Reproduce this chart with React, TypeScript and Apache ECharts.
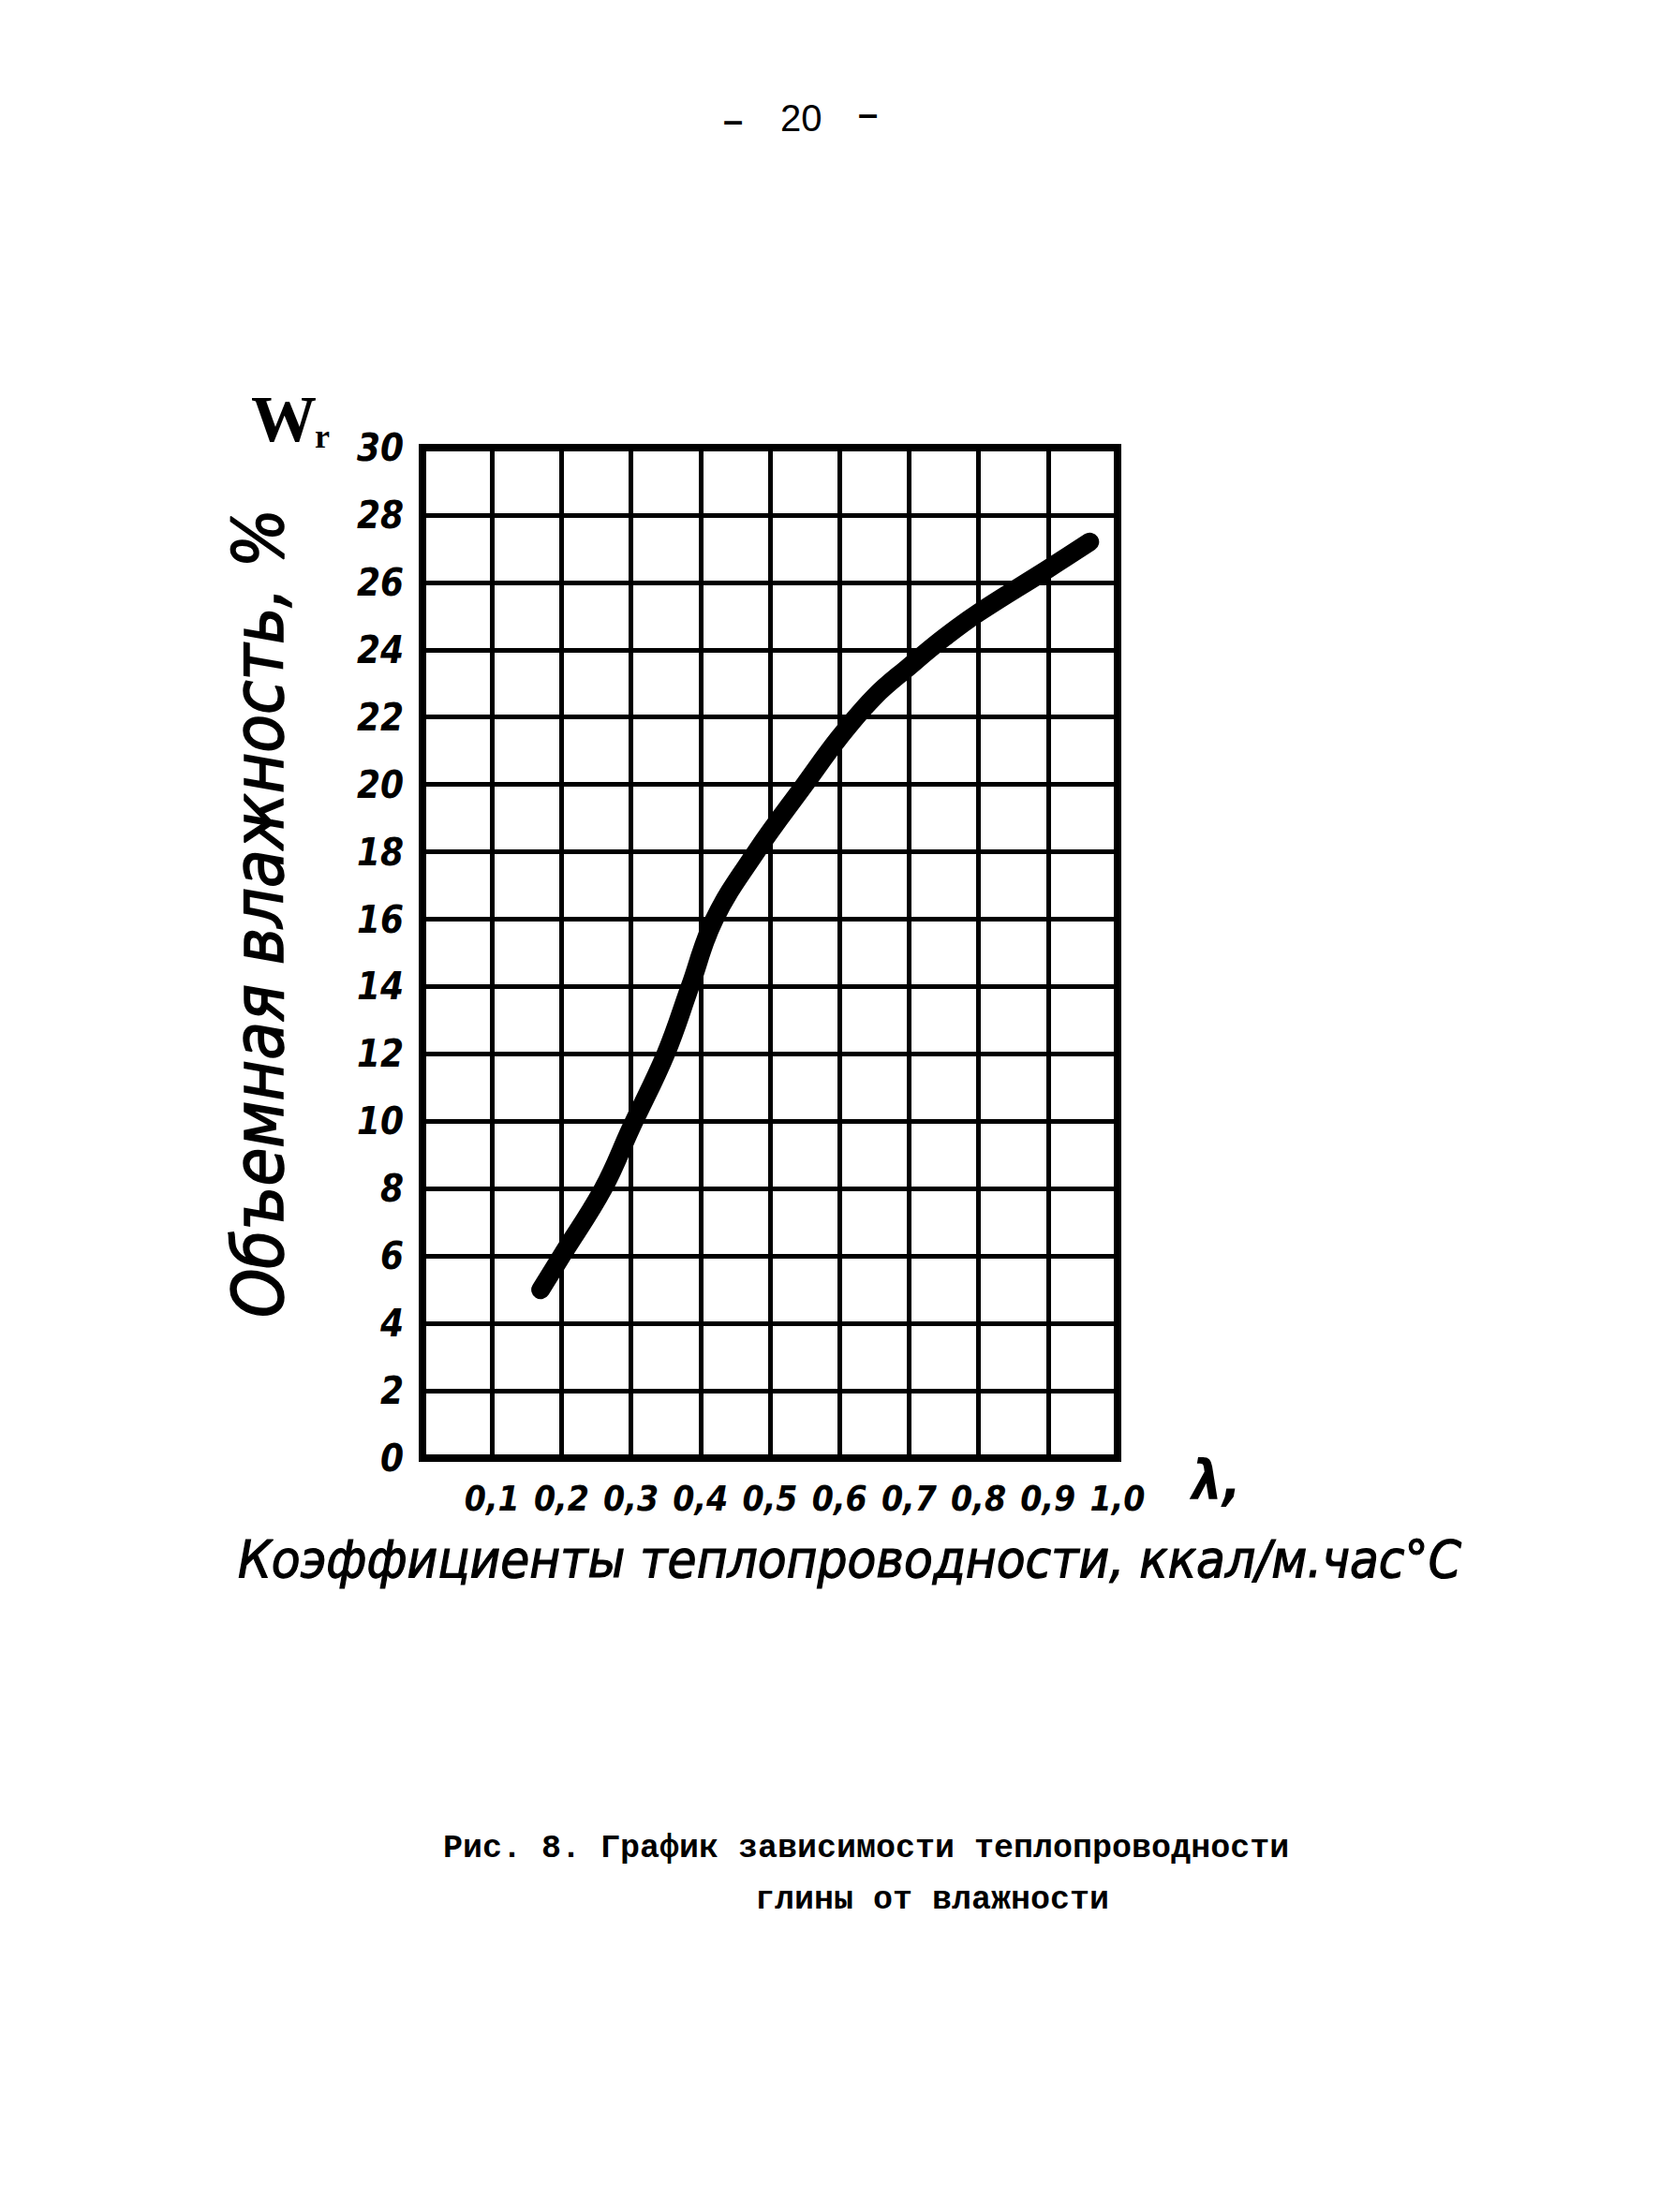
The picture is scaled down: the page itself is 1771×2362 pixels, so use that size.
import React, { useEffect, useRef } from "react";
import * as echarts from "echarts";

// Thermal conductivity coefficient λ (x) vs volumetric moisture W (y)
const lambdaValues = [0.17, 0.2, 0.26, 0.3, 0.35, 0.385, 0.42, 0.48, 0.55, 0.6, 0.65, 0.7, 0.75, 0.8, 0.9, 0.96];
const moistureValues = [5.0, 6.0, 8.0, 9.8, 12.0, 14.0, 16.0, 18.0, 20.0, 21.4, 22.6, 23.5, 24.35, 25.1, 26.4, 27.2];

const xTickValues = [0.1, 0.2, 0.3, 0.4, 0.5, 0.6, 0.7, 0.8, 0.9, 1.0];
const xTickLabels = ["0,1", "0,2", "0,3", "0,4", "0,5", "0,6", "0,7", "0,8", "0,9", "1,0"];

const pageNumber = "20";
const yTitle = "Объемная влажность, %";
const xTitle = "Коэффициенты теплопроводности, ккал/м.час°С";
const captionLine1 = "Рис. 8. График зависимости теплопроводности";
const captionLine2 = "глины от влажности";

const HAND = "'DejaVu Sans Condensed', 'DejaVu Sans', sans-serif";

export default function App() {
  const ref = useRef<HTMLDivElement>(null);

  useEffect(() => {
    if (!ref.current) return;
    const chart = echarts.init(ref.current, null, { renderer: "svg" });
    const data = lambdaValues.map((x, i) => [x, moistureValues[i]]);

    chart.setOption({
      animation: false,
      backgroundColor: "#ffffff",
      grid: {
        left: 451,
        right: 578,
        top: 478,
        bottom: 805,
        show: true,
        borderColor: "#000",
        borderWidth: 8,
        backgroundColor: "transparent",
      },
      xAxis: {
        type: "value",
        min: 0,
        max: 1.0,
        interval: 0.1,
        axisLine: { show: true, lineStyle: { color: "#000", width: 8 } },
        axisTick: { show: false },
        splitLine: { show: true, lineStyle: { color: "#000", width: 5 } },
        axisLabel: {
          margin: 25,
          color: "#000",
          fontFamily: HAND,
          fontStyle: "italic",
          fontWeight: "bold",
          fontSize: 37,
          formatter: (v: number) => {
            const idx = xTickValues.findIndex((t) => Math.abs(t - v) < 1e-6);
            return idx >= 0 ? xTickLabels[idx] : "";
          },
        },
      },
      yAxis: {
        type: "value",
        min: 0,
        max: 30,
        interval: 2,
        axisLine: { show: true, lineStyle: { color: "#000", width: 8 } },
        axisTick: { show: false },
        splitLine: { show: true, lineStyle: { color: "#000", width: 5 } },
        axisLabel: {
          margin: 20,
          color: "#000",
          fontFamily: HAND,
          fontStyle: "italic",
          fontWeight: "bold",
          fontSize: 40,
        },
      },
      series: [
        {
          type: "line",
          data,
          smooth: 0.4,
          showSymbol: false,
          lineStyle: { color: "#000", width: 20, cap: "round", join: "round" },
          z: 5,
        },
      ],
      graphic: [
        {
          type: "text",
          left: 772,
          top: 110,
          style: { text: "–", font: "bold 38px 'Liberation Sans', sans-serif", fill: "#000" },
        },
        {
          type: "text",
          left: 833,
          top: 106,
          style: { text: pageNumber, font: "40px 'Liberation Sans', sans-serif", fill: "#000" },
        },
        {
          type: "text",
          left: 916,
          top: 103,
          style: { text: "–", font: "bold 38px 'Liberation Sans', sans-serif", fill: "#000" },
        },
        {
          type: "text",
          left: 268,
          top: 412,
          style: { text: "W", font: "bold 70px 'Liberation Serif', serif", fill: "#000" },
        },
        {
          type: "text",
          left: 336,
          top: 448,
          style: { text: "r", font: "bold 36px 'Liberation Serif', serif", fill: "#000" },
        },
        {
          type: "text",
          x: 276,
          y: 975,
          rotation: Math.PI / 2,
          style: {
            text: yTitle,
            font: `italic 74px ${HAND}`,
            fill: "#000",
            stroke: "#000",
            lineWidth: 1.5,
            align: "center",
            verticalAlign: "middle",
          },
        },
        {
          type: "text",
          left: 1272,
          top: 1552,
          style: { text: "λ,", font: `italic bold 58px ${HAND}`, fill: "#000" },
        },
        {
          type: "text",
          x: 907,
          y: 1664,
          style: {
            text: xTitle,
            font: `italic 56px ${HAND}`,
            fill: "#000",
            stroke: "#000",
            lineWidth: 1.2,
            align: "center",
            verticalAlign: "middle",
          },
        },
        {
          type: "text",
          left: 473,
          top: 1956,
          style: { text: captionLine1, font: "bold 35px 'Liberation Mono', monospace", fill: "#000" },
        },
        {
          type: "text",
          left: 806,
          top: 2011,
          style: { text: captionLine2, font: "bold 35px 'Liberation Mono', monospace", fill: "#000" },
        },
      ],
    });

    return () => chart.dispose();
  }, []);

  return (
    <div
      ref={ref}
      style={{ position: "absolute", left: 0, top: 0, width: 1771, height: 2362, background: "#fff" }}
    />
  );
}
